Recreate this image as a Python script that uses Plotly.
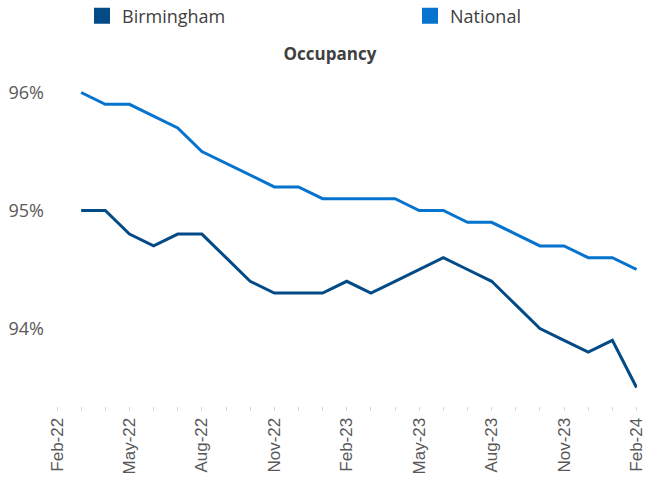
import plotly.graph_objects as go

months = ["Feb-22", "Mar-22", "Apr-22", "May-22", "Jun-22", "Jul-22", "Aug-22", "Sep-22",
          "Oct-22", "Nov-22", "Dec-22", "Jan-23", "Feb-23", "Mar-23", "Apr-23", "May-23",
          "Jun-23", "Jul-23", "Aug-23", "Sep-23", "Oct-23", "Nov-23", "Dec-23", "Jan-24", "Feb-24"]
data_months = months[1:]

birmingham = [95.0, 95.0, 94.8, 94.7, 94.8, 94.8, 94.6, 94.4, 94.3, 94.3, 94.3, 94.4,
              94.3, 94.4, 94.5, 94.6, 94.5, 94.4, 94.2, 94.0, 93.9, 93.8, 93.9, 93.5]
national = [96.0, 95.9, 95.9, 95.8, 95.7, 95.5, 95.4, 95.3, 95.2, 95.2, 95.1, 95.1,
            95.1, 95.1, 95.0, 95.0, 94.9, 94.9, 94.8, 94.7, 94.7, 94.6, 94.6, 94.5]

tick_text = [m if i % 3 == 0 else "" for i, m in enumerate(months)]

C_BHM = "#034B86"
C_NAT = "#0673CE"

W, H = 660, 478

fig = go.Figure()
fig.add_trace(go.Scatter(x=data_months, y=birmingham, mode="lines", name="Birmingham",
                         line=dict(color=C_BHM, width=3), showlegend=False))
fig.add_trace(go.Scatter(x=data_months, y=national, mode="lines", name="National",
                         line=dict(color=C_NAT, width=3), showlegend=False))
# legend swatches
fig.add_trace(go.Scatter(x=[None], y=[None], mode="markers", name="Birmingham",
                         marker=dict(symbol="square", size=16, color=C_BHM),
                         legend="legend"))
fig.add_trace(go.Scatter(x=[None], y=[None], mode="markers", name="National",
                         marker=dict(symbol="square", size=16, color=C_NAT),
                         legend="legend2"))

legend_common = dict(orientation="h", xref="container", yref="container",
                     y=(H - 16) / H, xanchor="left", yanchor="middle",
                     font=dict(family="Open Sans", size=18, color="#404040"),
                     itemsizing="trace", bgcolor="rgba(0,0,0,0)")

fig.update_layout(
    width=W, height=H,
    margin=dict(l=57, r=23, t=69, b=72, autoexpand=False),
    paper_bgcolor="white", plot_bgcolor="white",
    title=dict(text="<b>Occupancy</b>", x=330 / W, xref="container", xanchor="center",
               y=(H - 54) / H, yref="container", yanchor="middle",
               font=dict(family="Open Sans", size=17, color="#404040")),
    legend=dict(x=82 / W, **legend_common),
    legend2=dict(x=410 / W, **legend_common),
    xaxis=dict(type="category", categoryorder="array", categoryarray=months,
               range=[0, 24.02], tickmode="array", tickvals=months, ticktext=tick_text,
               tickangle=-90, ticks="outside", ticklen=4, tickcolor="#d9d9d9",
               showgrid=False, zeroline=False, showline=False, automargin=False,
               tickfont=dict(family="Liberation Sans", size=17, color="#595959")),
    yaxis=dict(range=[93.343, 96.199], dtick=1, tick0=0, ticksuffix="%",
               showgrid=False, zeroline=False, showline=False, ticks="",
               ticklabelstandoff=12, automargin=False,
               tickfont=dict(family="Open Sans", size=18, color="#595959")),
)

# remove the default 8px page margin so the 660x478 figure fills the window exactly
fig.write_html("out.html",
               config={"displayModeBar": False},
               post_script="document.body.style.margin='0px';document.body.style.overflow='hidden';")
